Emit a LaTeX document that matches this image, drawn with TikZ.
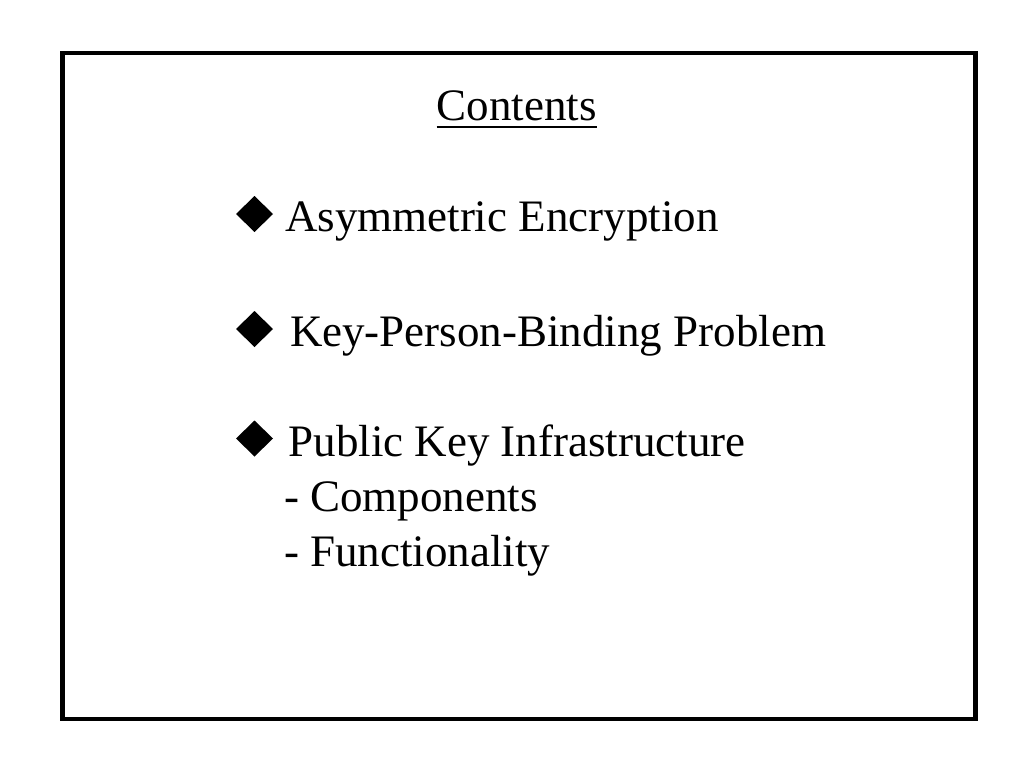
\documentclass[tikz,border=0pt]{standalone}
\usepackage{fontspec}
\setmainfont{Liberation Serif}
\usetikzlibrary{shapes.geometric,calc}
\tikzset{
  txt/.style={inner sep=0pt, outer sep=0pt, anchor=base west, font=\fontsize{45}{54}\selectfont},
  bullet/.style={diamond, fill=black, draw=none, inner sep=0pt, outer sep=0pt, minimum width=37pt, minimum height=36pt, anchor=south},
  frame/.style={draw=black, line width=4.5pt}
}
\begin{document}
\begin{tikzpicture}[x=1pt,y=-1pt]
\useasboundingbox (0,0) rectangle (1024,768);
\fill[white] (0,0) rectangle (1024,768);
\node[frame, minimum width=913pt, minimum height=665.5pt, inner sep=0pt, anchor=north west] (box) at (60,51) {};
\node[txt, anchor=base] (cont) at (516.5,120.5) {Contents};
\draw[line width=2.2pt] ($(cont.base west)+(0,6.5)$) coordinate (ul1) -- ($(cont.base east)+(0,6.5)$) coordinate (ul2);
\node[bullet] (d1) at (254.5,232) {};
\node[txt] (t1) at (285,231.5) {Asymmetric Encryption};
\node[bullet] (d2) at (254.5,347) {};
\node[txt] (t2) at (290,346.5) {Key-Person-Binding Problem};
\node[bullet] (d3) at (254.5,456.5) {};
\node[txt] (t3) at (288.5,456) {Public Key Infrastructure};
\node[txt] (t4) at (284,511) {- Components};
\node[txt] (t5) at (284,566) {- Functionality};
\end{tikzpicture}
\end{document}
